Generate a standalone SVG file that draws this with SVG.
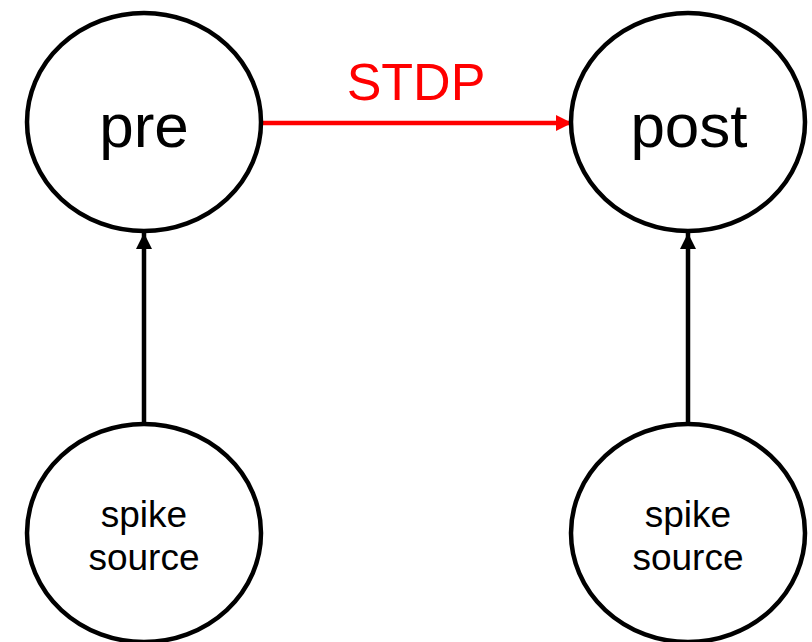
<svg xmlns="http://www.w3.org/2000/svg" width="812" height="642" viewBox="0 0 812 642">
<style>
.node{fill:#fff;stroke:#000;stroke-width:4.5}
.t{font-family:"Liberation Sans",Arial,sans-serif;text-anchor:middle;fill:#000}
.big{font-size:62px}
.small{font-size:37px}
.edge{stroke:#000;stroke-width:4.5;fill:none}
.red{stroke:#f00;stroke-width:4.5;fill:none}
</style>
<defs>
<marker id="ab" viewBox="0 0 16 16" refX="16" refY="8" markerWidth="16" markerHeight="16" markerUnits="userSpaceOnUse" orient="auto"><path d="M0,0L16,8L0,16z" fill="#000"/></marker>
<marker id="ar" viewBox="0 0 16 16" refX="16" refY="8" markerWidth="16" markerHeight="16" markerUnits="userSpaceOnUse" orient="auto"><path d="M0,0L16,8L0,16z" fill="#f00"/></marker>
</defs>
<rect width="812" height="642" fill="#fff"/>
<g id="connectors">
<line class="edge" x1="144" y1="423" x2="144" y2="233" marker-end="url(#ab)"/>
<line class="edge" x1="688" y1="423" x2="688" y2="233" marker-end="url(#ab)"/>
<line class="red" x1="262" y1="123" x2="572" y2="123" marker-end="url(#ar)"/>
<text class="t" x="416" y="100" font-size="52" fill="#f00" style="fill:#f00">STDP</text>
</g>
<g id="pre">
<ellipse class="node" cx="144" cy="122" rx="117" ry="109"/>
<text class="t big" x="144" y="147">pre</text>
</g>
<g id="post">
<ellipse class="node" cx="688" cy="122" rx="117" ry="109"/>
<text class="t big" x="689" y="147">post</text>
</g>
<g id="src1">
<ellipse class="node" cx="144" cy="533" rx="117" ry="109"/>
<text class="t small" x="144" y="527">spike</text>
<text class="t small" x="144" y="570">source</text>
</g>
<g id="src2">
<ellipse class="node" cx="688" cy="533" rx="117" ry="109"/>
<text class="t small" x="688" y="527">spike</text>
<text class="t small" x="688" y="570">source</text>
</g>
</svg>
